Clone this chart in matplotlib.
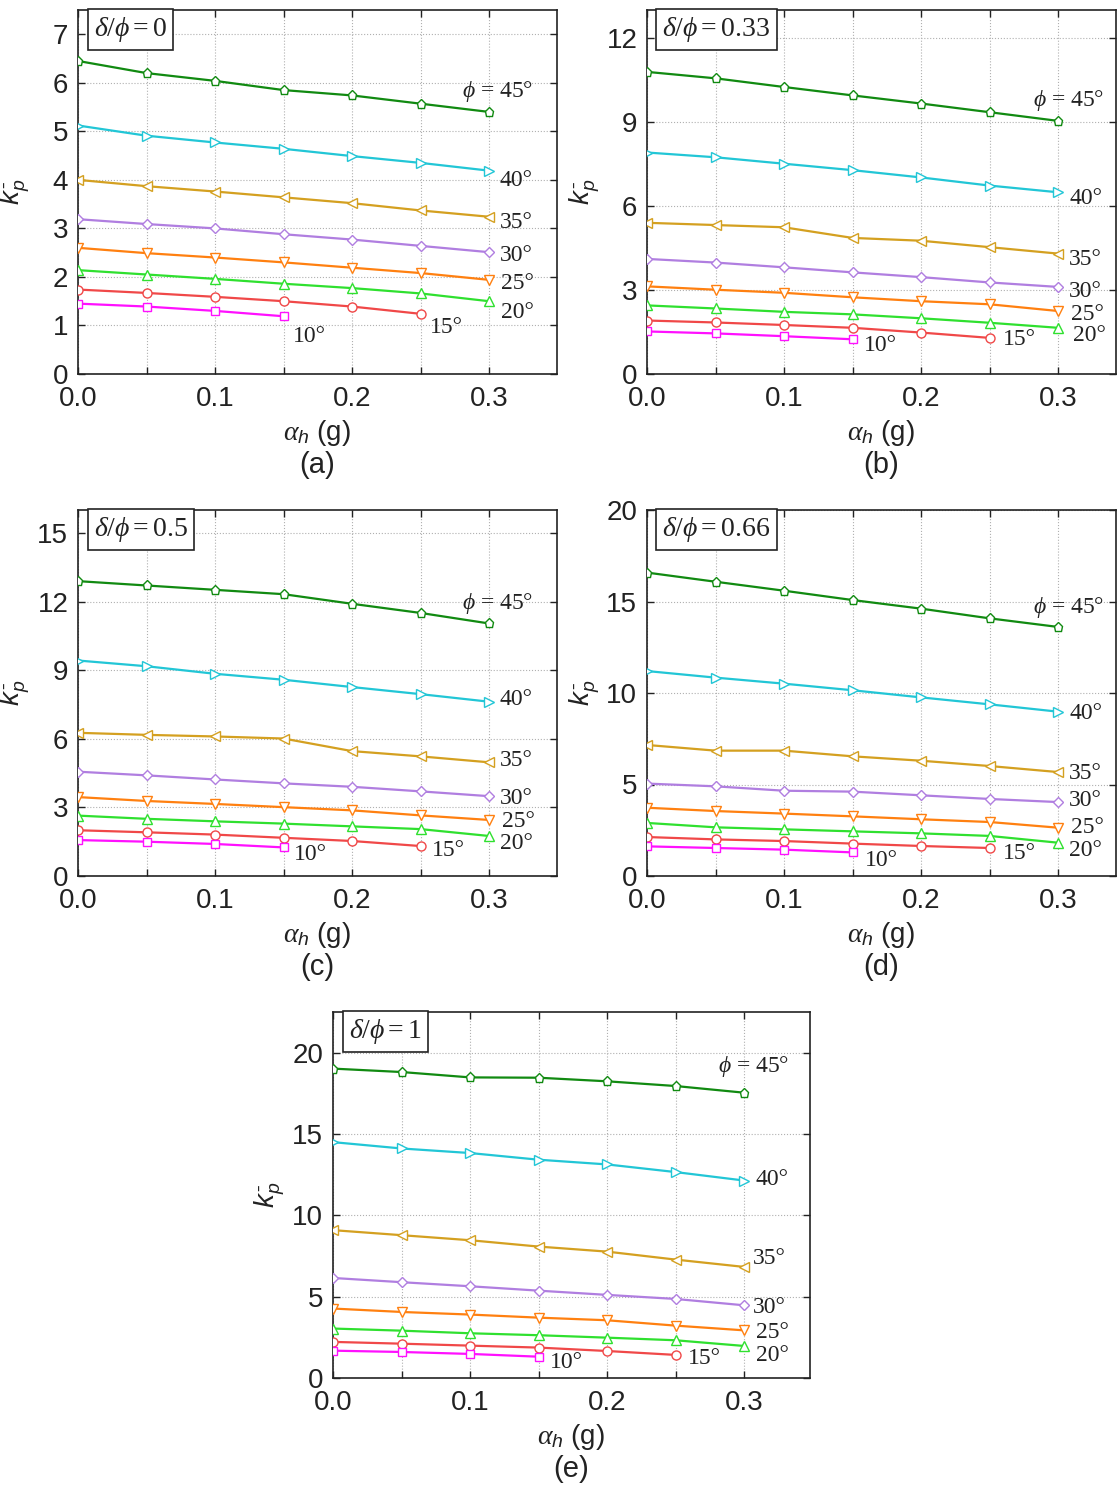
import matplotlib.pyplot as plt
from matplotlib.ticker import MultipleLocator

plt.rcParams['font.family'] = ['Liberation Sans', 'DejaVu Sans']
plt.rcParams['mathtext.fontset'] = 'custom'
plt.rcParams['mathtext.rm'] = 'Liberation Serif'
plt.rcParams['mathtext.it'] = 'Liberation Serif:italic'
plt.rcParams['mathtext.sf'] = 'Liberation Sans:italic'
plt.rcParams['mathtext.fallback'] = 'stix'

# horizontal seismic coefficient (g)
ah = [0.0, 0.05, 0.10, 0.15, 0.20, 0.25, 0.30]
phi_vals = [45, 40, 35, 30, 25, 20, 15, 10]

# passive earth pressure coefficient kp-, one dict per wall friction ratio
kp_r0 = {
    45: [6.45, 6.20, 6.04, 5.85, 5.74, 5.57, 5.40],
    40: [5.12, 4.91, 4.77, 4.64, 4.49, 4.35, 4.19],
    35: [4.00, 3.87, 3.76, 3.64, 3.52, 3.37, 3.24],
    30: [3.19, 3.09, 3.00, 2.88, 2.77, 2.64, 2.51],
    25: [2.60, 2.49, 2.40, 2.30, 2.19, 2.08, 1.94],
    20: [2.14, 2.05, 1.96, 1.86, 1.77, 1.66, 1.50],
    15: [1.74, 1.67, 1.59, 1.50, 1.39, 1.24],
    10: [1.45, 1.39, 1.30, 1.19],
}
kp_r033 = {
    45: [10.79, 10.56, 10.25, 9.95, 9.66, 9.35, 9.04],
    40: [7.91, 7.74, 7.51, 7.28, 7.02, 6.73, 6.49],
    35: [5.40, 5.32, 5.24, 4.86, 4.76, 4.53, 4.30],
    30: [4.11, 3.98, 3.81, 3.63, 3.46, 3.27, 3.11],
    25: [3.13, 3.01, 2.90, 2.74, 2.60, 2.49, 2.25],
    20: [2.45, 2.34, 2.22, 2.13, 1.99, 1.83, 1.65],
    15: [1.91, 1.84, 1.75, 1.65, 1.48, 1.29],
    10: [1.52, 1.45, 1.35, 1.24],
}
kp_r05 = {
    45: [12.89, 12.70, 12.51, 12.32, 11.90, 11.50, 11.04],
    40: [9.42, 9.17, 8.84, 8.58, 8.26, 7.95, 7.62],
    35: [6.26, 6.17, 6.10, 6.01, 5.46, 5.23, 4.97],
    30: [4.56, 4.40, 4.22, 4.05, 3.90, 3.70, 3.49],
    25: [3.45, 3.28, 3.15, 3.01, 2.87, 2.65, 2.45],
    20: [2.64, 2.50, 2.39, 2.29, 2.17, 2.05, 1.75],
    15: [2.00, 1.91, 1.81, 1.67, 1.53, 1.31],
    10: [1.57, 1.50, 1.40, 1.25],
}
kp_r066 = {
    45: [16.58, 16.08, 15.59, 15.08, 14.61, 14.08, 13.61],
    40: [11.20, 10.84, 10.51, 10.15, 9.76, 9.38, 8.98],
    35: [7.16, 6.85, 6.85, 6.54, 6.30, 6.01, 5.68],
    30: [5.05, 4.90, 4.66, 4.61, 4.41, 4.21, 4.04],
    25: [3.73, 3.55, 3.41, 3.26, 3.10, 2.95, 2.64],
    20: [2.90, 2.66, 2.55, 2.44, 2.33, 2.19, 1.82],
    15: [2.13, 2.00, 1.91, 1.77, 1.64, 1.53],
    10: [1.62, 1.53, 1.44, 1.29],
}
kp_r1 = {
    45: [19.02, 18.81, 18.48, 18.46, 18.24, 17.95, 17.54],
    40: [14.50, 14.11, 13.83, 13.42, 13.13, 12.66, 12.14],
    35: [9.09, 8.78, 8.47, 8.08, 7.77, 7.28, 6.83],
    30: [6.15, 5.89, 5.64, 5.37, 5.11, 4.86, 4.47],
    25: [4.27, 4.06, 3.90, 3.71, 3.55, 3.22, 2.93],
    20: [3.04, 2.91, 2.75, 2.63, 2.48, 2.32, 1.97],
    15: [2.22, 2.11, 1.99, 1.87, 1.66, 1.42],
    10: [1.68, 1.60, 1.48, 1.31],
}

styles = {
    45: ('#118a11', 'p', 6.5),
    40: ('#22c6d6', '>', 7),
    35: ('#d4a020', '<', 7),
    30: ('#b07ee0', 'D', 5),
    25: ('#ff8010', 'v', 7),
    20: ('#2fe02f', '^', 7),
    15: ('#f04848', 'o', 6.5),
    10: ('#ff10ff', 's', 5.5),
}

W, H = 1117, 1486
TXT = '#222222'

# (data, left, right, top, bottom px, ymax, ystep, ratio text, letter, label offsets px)
panels = [
    (kp_r0, 78, 557, 10, 374, 7.5, 1, r'$\delta/\phi = 0$', '(a)',
     {45: (-27, 20), 40: (11, -10), 35: (11, -6), 30: (11, -3), 25: (12, -4),
      20: (12, -11), 15: (9, -14), 10: (9, -20)}),
    (kp_r033, 647, 1116, 10, 374, 13, 3, r'$\delta/\phi = 0.33$', '(b)',
     {45: (-25, 20), 40: (12, -6), 35: (11, -6), 30: (11, -5), 25: (13, -4),
      20: (15, -8), 15: (13, -2), 10: (11, -6)}),
    (kp_r05, 78, 557, 510, 876, 16, 3, r'$\delta/\phi = 0.5$', '(c)',
     {45: (-27, 20), 40: (11, 2), 35: (11, 2), 30: (11, -2), 25: (13, -2),
      20: (11, -8), 15: (11, -4), 10: (10, -7)}),
    (kp_r066, 647, 1116, 510, 876, 20, 5, r'$\delta/\phi = 0.66$', '(d)',
     {45: (-25, 19), 40: (12, -2), 35: (11, -1), 30: (11, 2), 25: (13, 0),
      20: (11, -8), 15: (13, -5), 10: (12, -8)}),
    (kp_r1, 333, 810, 1012, 1378, 22.5, 5, r'$\delta/\phi = 1$', '(e)',
     {45: (-26, 26), 40: (12, 1), 35: (9, 8), 30: (9, -2), 25: (12, -2),
      20: (12, -10), 15: (12, -4), 10: (11, -6)}),
]

fig = plt.figure(figsize=(W / 100, H / 100), dpi=100)

for data, x0, x1, y0, y1, ymax, ystep, ratio, letter, offs in panels:
    ax = fig.add_axes([x0 / W, 1 - y1 / H, (x1 - x0) / W, (y1 - y0) / H])
    px_per_unit = 1370 / 10  # 0.1 g spans ~137 px in every panel
    ax.set_xlim(0, (x1 - x0) / px_per_unit / 10)
    ax.set_ylim(0, ymax)

    for p in phi_vals:
        color, marker, ms = styles[p]
        y = data[p]
        ax.plot(ah[:len(y)], y, color=color, lw=1.6, marker=marker, ms=ms,
                mfc='white', mec=color, mew=1.0, zorder=3)
        label = r'$\phi$ = 45°' if p == 45 else f'{p}°'
        ax.annotate(label, (ah[len(y) - 1], y[-1]), xytext=offs[p],
                    textcoords='offset pixels', ha='left', va='center',
                    fontsize=17, family='Liberation Serif', color=TXT,
                    annotation_clip=False)

    ax.xaxis.set_major_locator(MultipleLocator(0.1))
    ax.xaxis.set_minor_locator(MultipleLocator(0.05))
    ax.yaxis.set_major_locator(MultipleLocator(ystep))
    ax.xaxis.set_major_formatter(plt.FormatStrFormatter('%.1f'))
    ax.grid(True, which='both', axis='x', ls=':', lw=0.8, color='#b0b0b0')
    ax.grid(True, which='major', axis='y', ls=':', lw=0.8, color='#b0b0b0')
    ax.set_axisbelow(True)
    ax.tick_params(which='both', direction='in', top=True, right=True,
                   length=5, width=1, labelsize=20, color=TXT,
                   labelcolor=TXT)
    ax.tick_params(axis='x', pad=9)
    ax.tick_params(axis='y', pad=7)
    for s in ax.spines.values():
        s.set_linewidth(1.2)
        s.set_color(TXT)

    ax.set_xlabel(r'$\alpha_{\mathsf{h}}$ (g)', fontsize=20, labelpad=4,
                  color=TXT)
    ax.set_ylabel(r'$\mathsf{k}_{\mathsf{p}}^{\,\text{-}}$', fontsize=20,
                  color=TXT)
    ax.yaxis.set_label_coords(-0.097, 0.5)

    ax.text(0.033, 0.986, ratio, transform=ax.transAxes, ha='left', va='top',
            fontsize=20, color=TXT, zorder=5,
            bbox=dict(boxstyle='square,pad=0.22', fc='white', ec=TXT,
                      lw=1.2))
    ax.annotate(letter, (0.5, 0), xycoords='axes fraction', xytext=(0, -91),
                textcoords='offset pixels', ha='center', va='center',
                fontsize=21, color=TXT)

fig.savefig('out.png', dpi=100)
